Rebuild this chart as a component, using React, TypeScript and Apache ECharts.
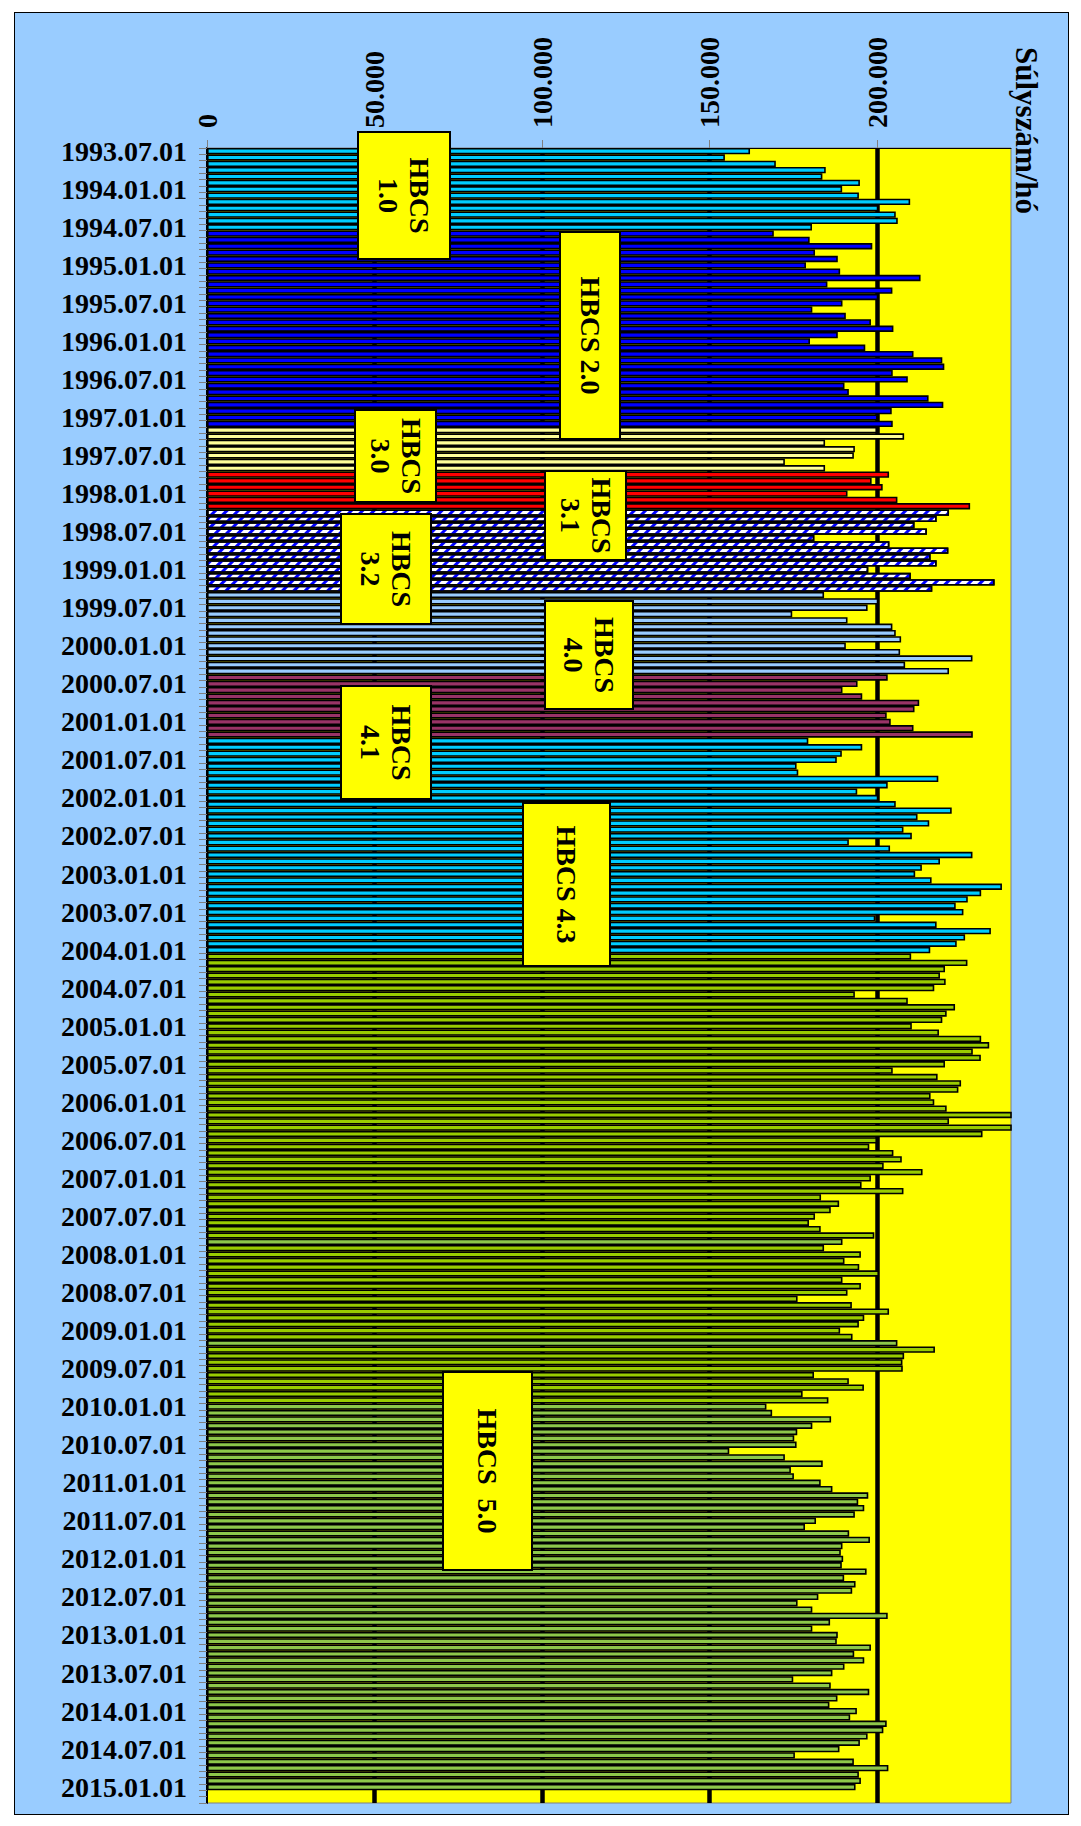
import React, { useEffect, useRef } from 'react';
import * as echarts from 'echarts';

// ---------- categories (monthly, 1993.07 .. 2015.03) ----------
const months: string[] = [];
for (let k = 0; k < 261; k++) {
  const m = 6 + k;
  const y = 1993 + Math.floor(m / 12);
  const mm = (m % 12) + 1;
  months.push(`${y}.${String(mm).padStart(2, '0')}.01`);
}

// ---------- values (Súlyszám / hó) per HBCS version ----------
const hbcs10 = [162100, 154600, 169800, 184700, 183700, 194900, 189600, 194600, 209900, 200400, 205600, 206200, 180600];
const hbcs20 = [169200, 179900, 198600, 181500, 188300, 178800, 189000, 213000, 185200, 204600, 200400, 189700, 180700, 190700, 198200, 204900, 188300, 180000, 196500, 210900, 219500, 220100, 204700, 209200, 190300, 191600, 215400, 219800, 204400, 200200, 204700];
const hbcs30 = [200000, 208100, 184500, 193400, 193100, 172500, 184500];
const hbcs31 = [203600, 198400, 201700, 191200, 206100, 227800];
const hbcs32 = [221500, 217800, 211200, 214900, 181300, 203700, 221300, 216000, 217800, 197400, 210100, 235100, 216500];
const hbcs40 = [184200, 200400, 197200, 174700, 191200, 204600, 205600, 207200, 190700, 206900, 228500, 208400, 221500];
const hbcs41 = [203200, 194200, 189700, 195600, 212600, 211200, 202900, 204100, 210900, 228600];
const hbcs43 = [179500, 195600, 189500, 188000, 176000, 176500, 218300, 203200, 194100, 200400, 205600, 222300, 212100, 215600, 207900, 210400, 191600, 203900, 228500, 218800, 213400, 211400, 216300, 237300, 231100, 227100, 223500, 225800, 199500, 217800, 234000, 226300, 223800, 215900];
const hbcs50 = [210200, 227000, 220300, 218800, 220500, 217100, 193400, 209200, 223300, 220800, 219500, 210400, 218500, 231100, 233500, 228600, 231000, 220300, 204700, 218100, 225100, 224300, 216000, 217100, 220800, 243000, 221500, 243000, 231500, 200000, 197700, 204900, 207400, 202000, 213600, 198200, 195400, 207900, 183300, 188700, 186200, 181500, 179700, 183200, 199200, 189700, 184200, 195200, 190300, 194700, 200600, 189700, 195200, 191200, 176300, 192500, 203600, 196200, 194600, 189000, 192700, 206100, 217300, 208100, 207600, 207700, 181200, 191600, 196100, 177800, 185500, 167000, 168700, 186300, 180700, 176200, 175300, 176000, 155900, 172500, 183800, 174300, 175200, 183200, 186700, 197400, 194400, 196200, 193400, 181800, 178500, 191700, 197900, 189700, 189200, 189900, 189500, 196900, 190200, 193600, 192600, 182500, 176300, 180700, 203200, 186000, 180700, 188300, 188000, 198200, 193200, 196200, 190300, 186700, 175000, 186200, 197700, 188200, 185800, 194000, 192000, 202900, 201900, 197200, 194900, 188800, 175500, 193100, 203400, 194600, 195200, 193600];

const versionValues = [hbcs10, hbcs20, hbcs30, hbcs31, hbcs32, hbcs40, hbcs41, hbcs43, hbcs50];

// months of HBCS 5.0 drawn in the lighter green
const lightGreenMonths = ['2007.11.01', '2009.03.01'];
const lightGreenFrom = '2010.01.01';

// value-axis tick labels
const valueTicks = [0, 50000, 100000, 150000, 200000];

// ---------- styles ----------
const versionColors = ['#00CCFF', '#0000FF', '#FFFF99', '#FF0000', 'hatch', '#99CCFF', '#993366', '#00CCFF', '#99CC00'];
const LIGHT_GREEN = '#8DC84A';
const FONT = '"Liberation Serif", "Times New Roman", serif';

// label boxes (layout)
const boxes = [
  { text: 'HBCS\n1.0', x: 358, y: 132, w: 92, h: 127 },
  { text: 'HBCS 2.0', x: 560, y: 232, w: 60, h: 207 },
  { text: 'HBCS\n3.0', x: 355, y: 410, w: 81, h: 92 },
  { text: 'HBCS\n3.1', x: 545, y: 471, w: 81, h: 89 },
  { text: 'HBCS\n3.2', x: 341, y: 514, w: 90, h: 110 },
  { text: 'HBCS\n4.0', x: 545, y: 601, w: 88, h: 108 },
  { text: 'HBCS\n4.1', x: 341, y: 686, w: 90, h: 113 },
  { text: 'HBCS 4.3', x: 523, y: 803, w: 87, h: 163 },
  { text: 'HBCS  5.0', x: 443, y: 1372, w: 89, h: 198 },
];

function buildData() {
  const out: any[] = [];
  let idx = 0;
  versionValues.forEach((arr, vi) => {
    arr.forEach((v) => {
      const month = months[idx];
      let itemStyle: any;
      const c = versionColors[vi];
      if (c === 'hatch') {
        itemStyle = {
          color: '#FFFFFF',
          decal: {
            symbol: 'rect',
            symbolSize: 1,
            color: '#0000FF',
            dashArrayX: [1, 0],
            dashArrayY: [3, 5],
            rotation: -Math.PI / 4,
          },
        };
      } else if (vi === 8 && (lightGreenMonths.includes(month) || month >= lightGreenFrom)) {
        itemStyle = { color: LIGHT_GREEN };
      } else {
        itemStyle = { color: c };
      }
      out.push({ value: v, itemStyle });
      idx++;
    });
  });
  return out;
}

export default function App() {
  const ref = useRef<HTMLDivElement>(null);
  useEffect(() => {
    if (!ref.current) return;
    const chart = echarts.init(ref.current, undefined, { renderer: 'svg' });
    const graphic: any[] = [];
    boxes.forEach((b) => {
      graphic.push({
        type: 'rect',
        z: 100,
        shape: { x: b.x, y: b.y, width: b.w, height: b.h },
        style: { fill: '#FFFF00', stroke: '#000000', lineWidth: 2 },
      });
      graphic.push({
        type: 'text',
        z: 101,
        x: b.x + b.w / 2,
        y: b.y + b.h / 2,
        rotation: -Math.PI / 2,
        style: {
          text: b.text,
          font: `bold 28px ${FONT}`,
          fill: '#000000',
          align: 'center',
          verticalAlign: 'middle',
          textAlign: 'center',
          textVerticalAlign: 'middle',
          lineHeight: 31,
        },
      });
    });
    graphic.push({
      type: 'text',
      z: 101,
      x: 1026,
      y: 47,
      rotation: -Math.PI / 2,
      style: {
        text: 'Súlyszám/hó',
        font: `bold 31px ${FONT}`,
        fill: '#000000',
        align: 'left',
        verticalAlign: 'middle',
        textAlign: 'left',
        textVerticalAlign: 'middle',
      },
    });

    const option: any = {
      animation: false,
      backgroundColor: 'transparent',
      grid: {
        left: 207,
        top: 148,
        width: 804,
        height: 1655,
        show: true,
        backgroundColor: '#FFFF00',
        borderColor: '#808080',
        borderWidth: 1,
      },
      xAxis: {
        type: 'value',
        position: 'top',
        min: 0,
        max: 240000,
        interval: 50000,
        axisLine: { show: true, onZero: false, lineStyle: { color: '#000000', width: 1 } },
        axisTick: { show: true, length: 8, customValues: valueTicks, lineStyle: { color: '#808080', width: 1 } },
        axisLabel: {
          rotate: -90,
          margin: 20,
          customValues: valueTicks,
          formatter: (v: number) => (v === 0 ? '0' : `${v / 1000}.000`),
          fontFamily: FONT,
          fontWeight: 'bold',
          fontSize: 28,
          color: '#000000',
        },
        splitLine: {
          show: true,
          showMinLine: false,
          lineStyle: { color: '#000000', width: 4.5 },
        },
      },
      yAxis: {
        type: 'category',
        inverse: true,
        data: months,
        axisLine: { show: true, lineStyle: { color: '#000000', width: 2 } },
        axisTick: { show: true, interval: 0, length: 8, lineStyle: { color: '#808080', width: 1 } },
        axisLabel: {
          interval: 5,
          margin: 20,
          fontFamily: FONT,
          fontWeight: 'bold',
          fontSize: 28,
          color: '#000000',
        },
        splitLine: { show: false },
      },
      series: [
        {
          type: 'bar',
          data: buildData(),
          barCategoryGap: '0%',
          clip: true,
          itemStyle: { borderColor: '#000000', borderWidth: 1.6 },
          z: 2,
        },
      ],
      graphic,
    };
    chart.setOption(option);
    return () => chart.dispose();
  }, []);

  return (
    <div style={{ position: 'absolute', left: 0, top: 0, width: 1081, height: 1826, background: '#FFFFFF' }}>
      <div
        style={{
          position: 'absolute',
          left: 14,
          top: 12,
          width: 1055,
          height: 1803,
          background: '#99CCFF',
          border: '1px solid #000000',
          boxSizing: 'border-box',
        }}
      />
      <div ref={ref} style={{ position: 'absolute', left: 0, top: 0, width: 1081, height: 1826 }} />
    </div>
  );
}
